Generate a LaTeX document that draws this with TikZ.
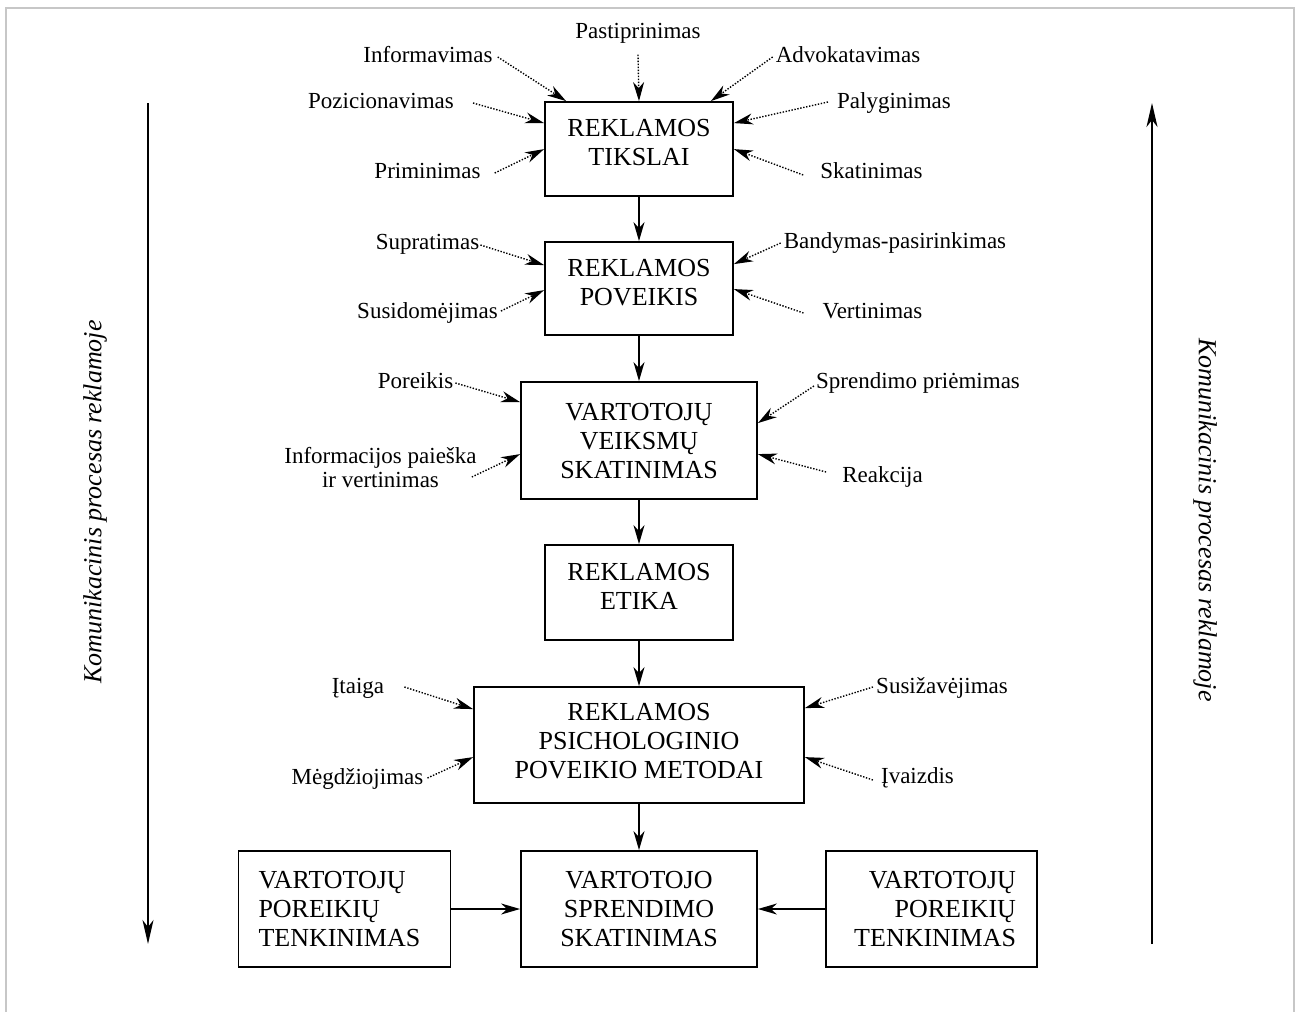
\documentclass[tikz,border=0pt]{standalone}
\usepackage{fontspec}
\setmainfont{Liberation Serif}
\usetikzlibrary{arrows.meta,calc}
\begin{document}
\begin{tikzpicture}[x=1pt,y=-1pt,
  box/.style={draw,line width=1.8pt,align=center,inner sep=0pt,font=\fontsize{26}{29}\selectfont},
  lab/.style={inner sep=0pt,font=\fontsize{23}{24}\selectfont,text height=16pt,text depth=5pt},
  labtwo/.style={inner sep=0pt,align=center,font=\fontsize{23}{24}\selectfont},
  tip/.tip={Stealth[length=19pt,width=11pt,inset=6pt]},
  dotarr/.style={line width=1.4pt,dash pattern=on 1.4pt off 1.6pt,-tip},
  mainarr/.style={line width=1.8pt,-tip},
  longarr/.style={line width=2pt,-{Stealth[length=24pt,width=11pt,inset=7pt]}},
  side/.style={font=\itshape\fontsize{26}{29}\selectfont,inner sep=0pt},
  framec/.style={draw=black!22,line width=1.6pt}]
\useasboundingbox (0,0) rectangle (1302,1012);
\draw[framec] (6,1020) -- (6,8) -- (1294,8) -- (1294,1020);

% boxes
\node[box,minimum width=188pt,minimum height=94pt,text depth=13pt] (b1) at (639,149) {REKLAMOS\\TIKSLAI};
\node[box,minimum width=188pt,minimum height=93pt,text depth=12pt] (b2) at (639,288.5) {REKLAMOS\\POVEIKIS};
\node[box,minimum width=236pt,minimum height=117pt,text depth=0pt] (b3) at (639,440.5) {VARTOTOJŲ\\VEIKSMŲ\\SKATINIMAS};
\node[box,minimum width=188pt,minimum height=95pt,text depth=12pt] (b4) at (639,592.5) {REKLAMOS\\ETIKA};
\node[box,minimum width=330pt,minimum height=116pt,text depth=8pt] (b5) at (639,745) {REKLAMOS\\PSICHOLOGINIO\\POVEIKIO METODAI};
\node[box,minimum width=236pt,minimum height=116pt,text depth=0pt] (b6) at (639,909) {VARTOTOJO\\SPRENDIMO\\SKATINIMAS};
\node[box,minimum width=212pt,minimum height=116pt,align=left,text width=172pt,inner xsep=20pt] (b7) at (344.5,909) {VARTOTOJŲ\\POREIKIŲ\\TENKINIMAS};
\node[box,minimum width=211pt,minimum height=116pt,align=right,text width=169pt,inner xsep=21pt] (b8) at (931.5,909) {VARTOTOJŲ\\POREIKIŲ\\TENKINIMAS};

% main arrows
\draw[mainarr] (b1) -- (b2);
\draw[mainarr] (b2) -- (b3);
\draw[mainarr] (b3) -- (b4);
\draw[mainarr] (b4) -- (b5);
\draw[mainarr] (b5) -- (b6);
\draw[mainarr] (b7) -- (b6);
\draw[mainarr] (b8) -- (b6);

% side arrows and texts
\coordinate (la1) at (148,103);
\coordinate (la2) at (148,944);
\draw[longarr] (la1) -- (la2);
\coordinate (ra1) at (1152,944);
\coordinate (ra2) at (1152,103);
\draw[longarr] (ra1) -- (ra2);
\node[side,rotate=90] (kl) at (95,502) {Komunikacinis procesas reklamoje};
\node[side,rotate=-90] (kr) at (1205,520) {Komunikacinis procesas reklamoje};

% labels b1
\node[lab] (l1) at (428,57) {Informavimas};
\node[lab] (l2) at (638,33) {Pastiprinimas};
\node[lab] (l3) at (848,57) {Advokatavimas};
\node[lab] (l4) at (381,103) {Pozicionavimas};
\node[lab] (l5) at (427.5,173) {Priminimas};
\node[lab] (l6) at (894,103) {Palyginimas};
\node[lab] (l7) at (871.5,173) {Skatinimas};
\draw[dotarr] ($(l1.east)+(5,0)$) -- ($(b1.north west)+(22,0)$);
\draw[dotarr] ($(l2.south)+(0,11)$) -- (b1.north);
\draw[dotarr] ($(l3.west)+(-3,0)$) -- ($(b1.north east)+(-23,0)$);
\draw[dotarr] ($(l4.east)+(19,0)$) -- ($(b1.north west)+(0,22)$);
\draw[dotarr] ($(l5.east)+(14,0)$) -- ($(b1.north west)+(0,48)$);
\draw[dotarr] ($(l6.west)+(-9,-1)$) -- ($(b1.north east)+(0,22)$);
\draw[dotarr] ($(l7.west)+(-17,2)$) -- ($(b1.north east)+(0,48)$);

% labels b2
\node[lab] (m1) at (427.5,244) {Supratimas};
\node[lab] (m2) at (427.5,313) {Susidomėjimas};
\node[lab] (m3) at (895,243) {Bandymas-pasirinkimas};
\node[lab] (m4) at (872.5,313) {Vertinimas};
\draw[dotarr] ($(m1.east)+(1,1)$) -- ($(b2.north west)+(0,24)$);
\draw[dotarr] ($(m2.east)+(3,-2)$) -- ($(b2.north west)+(0,49)$);
\draw[dotarr] ($(m3.west)+(-3,0)$) -- ($(b2.north east)+(0,23)$);
\draw[dotarr] ($(m4.west)+(-19,0)$) -- ($(b2.north east)+(0,48)$);

% labels b3
\node[lab] (n1) at (415.5,383) {Poreikis};
\node[labtwo] (n2) at (380.5,468) {Informacijos paieška\\ir vertinimas};
\node[lab] (n3) at (918,383) {Sprendimo priėmimas};
\node[lab] (n4) at (882.5,477) {Reakcija};
\draw[dotarr] ($(n1.east)+(2,0)$) -- ($(b3.north west)+(0,21)$);
\draw[dotarr] ($(n2.east)+(-5,9)$) -- ($(b3.north west)+(0,73)$);
\draw[dotarr] ($(n3.west)+(-2,3)$) -- ($(b3.north east)+(0,42)$);
\draw[dotarr] ($(n4.west)+(-16,-5)$) -- ($(b3.north east)+(0,73)$);

% labels b5
\node[lab] (p1) at (358,688) {Įtaiga};
\node[lab] (p2) at (357.5,779) {Mėgdžiojimas};
\node[lab] (p3) at (942,688) {Susižavėjimas};
\node[lab] (p4) at (917.5,778) {Įvaizdis};
\draw[dotarr] ($(p1.east)+(20,-1)$) -- ($(b5.north west)+(0,23)$);
\draw[dotarr] ($(p2.east)+(4,-1)$) -- ($(b5.north west)+(0,71)$);
\draw[dotarr] ($(p3.west)+(-3,-1)$) -- ($(b5.north east)+(0,22)$);
\draw[dotarr] ($(p4.west)+(-8,2)$) -- ($(b5.north east)+(0,71)$);
\end{tikzpicture}
\end{document}
